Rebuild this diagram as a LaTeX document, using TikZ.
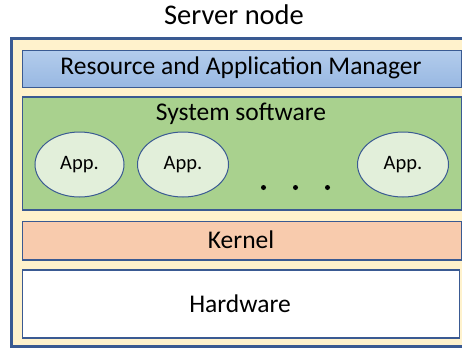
\documentclass[tikz,border=0pt]{standalone}
\usepackage{fontspec}
\setmainfont{Carlito}
\definecolor{bord}{HTML}{3A5A92}
\definecolor{cream}{HTML}{FFF2CC}
\definecolor{mgrtop}{HTML}{B3CCEC}
\definecolor{mgrbot}{HTML}{98B8E2}
\definecolor{swgreen}{HTML}{A9D18E}
\definecolor{appfill}{HTML}{E2EFDA}
\definecolor{kern}{HTML}{F8CBAD}
\tikzset{
  layer/.style={draw=bord, line width=1.6pt, inner sep=0pt},
  big/.style={font=\fontsize{25.5}{30}\selectfont},
  appnode/.style={ellipse, draw=bord, line width=1pt, fill=appfill, minimum width=89pt, minimum height=65pt, inner sep=0pt, font=\fontsize{20.5}{24}\selectfont},
}
\usetikzlibrary{shapes.geometric}
\begin{document}
\begin{tikzpicture}[x=1pt,y=-1pt]
\useasboundingbox (0,0) rectangle (462,349);
\clip (0,0) rectangle (462,349);
\node[font=\fontsize{28.5}{32}\selectfont] (title) at (234,15) {Server node};
\draw[bord, line width=3pt, fill=cream] (11,38) rectangle (480,346);
\coordinate (outer) at (11,38);
\node[layer, top color=mgrtop, bottom color=mgrbot, minimum width=439pt, minimum height=37pt, anchor=north west] (mgr) at (21.5,49.5) {};
\node[big] at (241,67.5) (mgrtxt) {Resource and Application Manager};
\node[layer, fill=swgreen, minimum width=439pt, minimum height=113pt, anchor=north west] (sw) at (21.5,96) {};
\node[big, anchor=center] (swtxt) at (241,113.5) {System software};
\node[appnode] (app1) at (79.5,164.5) {App.};
\node[appnode, minimum width=91pt] (app2) at (183,164.5) {App.};
\node[appnode, minimum width=91pt] (app3) at (403,164.5) {App.};
\fill (263.5,187.5) circle (2.5pt) coordinate (d1);
\fill (295.5,187.5) circle (2.5pt) coordinate (d2);
\fill (327.5,187.5) circle (2.5pt) coordinate (d3);
\node[layer, fill=kern, minimum width=439pt, minimum height=38.5pt, anchor=north west] (kernel) at (21.5,220.5) {};
\node[big] (kerntxt) at (241,240) {Kernel};
\node[layer, fill=white, minimum width=437pt, minimum height=68pt, anchor=north west] (hw) at (21.5,269) {};
\node[big] (hwtxt) at (240,303.5) {Hardware};
\end{tikzpicture}
\end{document}
